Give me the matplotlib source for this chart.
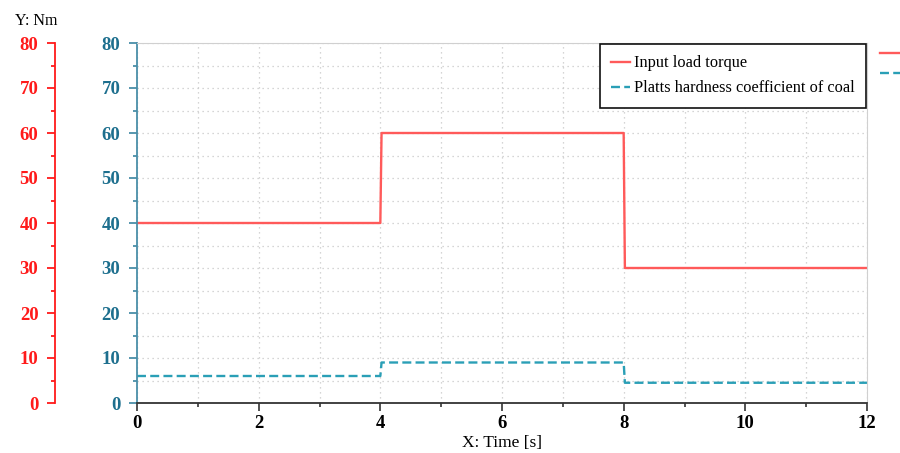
import matplotlib.pyplot as plt
from matplotlib.lines import Line2D
from matplotlib.ticker import MultipleLocator

plt.rcParams["font.family"] = ["Liberation Serif", "DejaVu Serif"]

# Step profiles over the 12 s run
time = [0, 4, 4.02, 8, 8.02, 12]
torque = [40, 40, 60, 60, 30, 30]
hardness = [6, 6, 9, 9, 4.5, 4.5]

RED = "#ff5a5a"
RED_AX = "#ff1a1a"
TEAL = "#2a9fb6"
TEAL_AX = "#4a8fa8"
TEAL_TXT = "#1d6f8e"
TICK_FS = 13.5
DASH = (0, (3.8, 1.8))

fig = plt.figure(figsize=(9, 4.53), dpi=100)
ax = fig.add_axes([137 / 900, 1 - 403 / 453, 730 / 900, 360 / 453])

ax.plot(time, torque, color=RED, lw=1.7, label="Input load torque")
ax.plot(time, hardness, color=TEAL, lw=1.7, ls=DASH,
        label="Platts hardness coefficient of coal")

ax.set_xlim(0, 12)
ax.set_ylim(0, 80)
ax.xaxis.set_major_locator(MultipleLocator(2))
ax.xaxis.set_minor_locator(MultipleLocator(1))
ax.yaxis.set_major_locator(MultipleLocator(10))
ax.yaxis.set_minor_locator(MultipleLocator(5))
ax.grid(which="both", color="#c8c8c8", ls=(0, (1, 3)), lw=0.9)

for s in ("top", "right"):
    ax.spines[s].set_color("#d0d0d0")
ax.spines["bottom"].set_color("#333333")
ax.spines["bottom"].set_linewidth(1.3)
ax.spines["left"].set_color(TEAL_AX)
ax.spines["left"].set_linewidth(1.3)

ax.tick_params(axis="x", which="major", length=6, width=1.2, color="#333333",
               labelsize=TICK_FS, pad=3)
ax.tick_params(axis="x", which="minor", length=3, width=1.2, color="#333333")
ax.tick_params(axis="y", which="major", length=6, width=1.3, color=TEAL_AX,
               labelcolor=TEAL_TXT, labelsize=TICK_FS, pad=6)
ax.tick_params(axis="y", which="minor", length=3, width=1.3, color=TEAL_AX)
for lab in ax.get_xticklabels() + ax.get_yticklabels():
    lab.set_fontweight("bold")
ax.set_xlabel("X: Time [s]", fontsize=12.5, labelpad=2)

# Outer red scale, same range
ax2 = ax.twinx()
ax2.set_ylim(0, 80)
ax2.yaxis.set_major_locator(MultipleLocator(10))
ax2.yaxis.set_minor_locator(MultipleLocator(5))
for s in ("top", "right", "bottom"):
    ax2.spines[s].set_visible(False)
ax2.spines["left"].set_visible(True)
ax2.spines["left"].set_position(("outward", 59))
ax2.spines["left"].set_color(RED_AX)
ax2.spines["left"].set_linewidth(1.3)
ax2.yaxis.set_ticks_position("left")
ax2.tick_params(axis="y", which="major", length=6, width=1.3, color=RED_AX,
                labelcolor=RED_AX, labelsize=TICK_FS, pad=6)
ax2.tick_params(axis="y", which="minor", length=3, width=1.3, color=RED_AX)
for lab in ax2.get_yticklabels():
    lab.set_fontweight("bold")

leg = ax.legend(loc="upper right", fontsize=11.8, frameon=True, fancybox=False,
                borderpad=0.7, handlelength=1.15, handletextpad=0.25,
                labelspacing=0.55, borderaxespad=0.05)
leg.get_frame().set_edgecolor("#111111")
leg.get_frame().set_linewidth(1.2)
leg.get_frame().set_alpha(1)

fig.text(15 / 900, 1 - 21 / 453, "Y: Nm", fontsize=11.5, va="center", ha="left")

# Clipped legend markers at the right edge
fig.add_artist(Line2D([880 / 900, 1.0], [1 - 53 / 453] * 2, color=RED, lw=1.7,
                      transform=fig.transFigure))
fig.add_artist(Line2D([880 / 900, 1.0], [1 - 73 / 453] * 2, color=TEAL, lw=1.7,
                      ls=DASH, transform=fig.transFigure))

fig.savefig("out.png", dpi=100)
